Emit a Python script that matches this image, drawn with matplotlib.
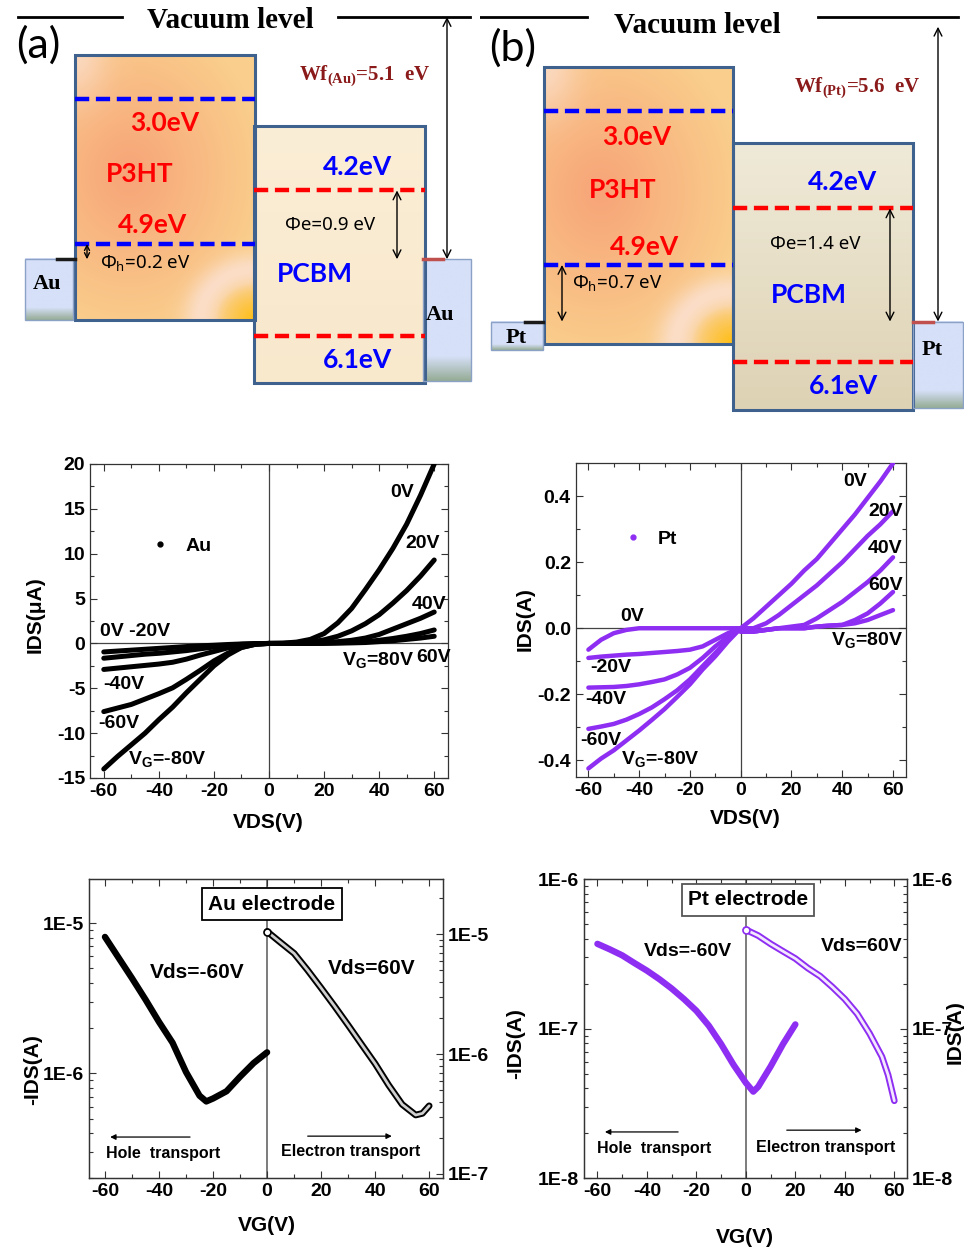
import numpy as np
import matplotlib.pyplot as plt
import matplotlib.patheffects as pe
from matplotlib.patches import Rectangle
from matplotlib.ticker import MultipleLocator, LogLocator, FuncFormatter, NullFormatter

plt.rcParams['font.family'] = ['Liberation Sans', 'DejaVu Sans']
plt.rcParams['font.weight'] = 'bold'
plt.rcParams['axes.labelweight'] = 'bold'
plt.rcParams['axes.unicode_minus'] = False
plt.rcParams['mathtext.default'] = 'regular'

# ---- energy levels (eV)
p3ht_lumo, p3ht_homo = 3.0, 4.9
pcbm_lumo, pcbm_homo = 4.2, 6.1
wf_au, wf_pt = 5.1, 5.6

# ---- output curves IDS(VDS)
vds_neg = [-60, -55, -50, -45, -40, -35, -30, -25, -20, -15, -10, -5, 0]
vds_pos = [0, 5, 10, 15, 20, 25, 30, 35, 40, 45, 50, 55, 60]
vg_neg = [0, -20, -40, -60, -80]
vg_pos = [0, 20, 40, 60, 80]

au_neg = [  # uA
    [-0.95, -0.85, -0.75, -0.65, -0.55, -0.45, -0.35, -0.27, -0.2, -0.12, -0.06, -0.02, 0],
    [-1.65, -1.5, -1.35, -1.2, -1.1, -0.95, -0.8, -0.6, -0.4, -0.25, -0.1, -0.03, 0],
    [-2.9, -2.75, -2.6, -2.45, -2.3, -2.1, -1.75, -1.3, -0.9, -0.5, -0.2, -0.05, 0],
    [-7.6, -7.2, -6.8, -6.2, -5.6, -4.95, -4.0, -3.0, -1.95, -1.1, -0.45, -0.1, 0],
    [-14.0, -12.6, -11.3, -10.0, -8.5, -7.1, -5.5, -4.0, -2.5, -1.3, -0.45, -0.1, 0],
]
au_pos = [
    [0, 0.03, 0.15, 0.45, 1.1, 2.3, 3.9, 6.0, 8.2, 10.6, 13.3, 16.5, 20.0],
    [0, 0, 0.05, 0.15, 0.4, 0.8, 1.4, 2.2, 3.2, 4.5, 5.9, 7.5, 9.3],
    [0, 0, 0, 0.05, 0.1, 0.2, 0.35, 0.6, 1.0, 1.6, 2.2, 2.8, 3.5],
    [0, 0, 0, 0, 0.05, 0.08, 0.12, 0.2, 0.35, 0.55, 0.8, 1.1, 1.5],
    [0, 0, 0, 0, 0, 0.03, 0.06, 0.1, 0.2, 0.3, 0.45, 0.6, 0.8],
]
pt_neg = [  # A
    [-0.065, -0.035, -0.015, -0.005, 0, 0, 0, 0, 0, 0, 0, 0, 0],
    [-0.09, -0.086, -0.083, -0.08, -0.078, -0.075, -0.072, -0.069, -0.065, -0.055, -0.035, -0.015, 0],
    [-0.18, -0.179, -0.178, -0.175, -0.17, -0.163, -0.155, -0.14, -0.12, -0.09, -0.055, -0.025, 0],
    [-0.305, -0.298, -0.29, -0.277, -0.26, -0.24, -0.215, -0.188, -0.155, -0.115, -0.075, -0.035, 0],
    [-0.425, -0.395, -0.37, -0.34, -0.31, -0.278, -0.245, -0.208, -0.17, -0.125, -0.085, -0.04, 0],
]
pt_pos = [
    [0, 0.03, 0.065, 0.1, 0.135, 0.175, 0.21, 0.255, 0.3, 0.345, 0.395, 0.445, 0.5],
    [0, 0, 0.015, 0.04, 0.07, 0.1, 0.13, 0.165, 0.2, 0.24, 0.28, 0.315, 0.355],
    [-0.01, -0.01, -0.005, 0, 0.005, 0.01, 0.03, 0.055, 0.08, 0.11, 0.14, 0.175, 0.215],
    [-0.01, -0.01, -0.005, 0, 0, 0, 0.005, 0.008, 0.01, 0.025, 0.045, 0.075, 0.11],
    [-0.01, -0.01, -0.005, 0, 0, 0, 0.005, 0.008, 0.01, 0.015, 0.025, 0.04, 0.055],
]

# ---- transfer curves
vg_au_neg = [-60, -55, -50, -45, -40, -35, -30, -25, -22.5, -20, -15, -10, -5, 0]
ids_au_neg = [8.1e-6, 5.9e-6, 4.3e-6, 3.1e-6, 2.2e-6, 1.6e-6, 1.02e-6, 7.1e-7, 6.5e-7,
              6.8e-7, 7.6e-7, 9.5e-7, 1.17e-6, 1.38e-6]
vg_au_pos = [0, 5, 10, 15, 20, 25, 30, 35, 40, 45, 50, 55, 57.5, 60]
ids_au_pos = [1.05e-5, 8.5e-6, 6.9e-6, 5.0e-6, 3.55e-6, 2.5e-6, 1.74e-6, 1.2e-6, 8.3e-7,
              5.5e-7, 3.8e-7, 3.1e-7, 3.2e-7, 3.7e-7]
vg_pt_neg = [-60, -55, -50, -45, -40, -35, -30, -25, -20, -15, -10, -5, 0, 3, 5, 10, 15, 20]
ids_pt_neg = [3.7e-7, 3.4e-7, 3.1e-7, 2.75e-7, 2.45e-7, 2.15e-7, 1.86e-7, 1.58e-7, 1.32e-7,
              1.05e-7, 7.9e-8, 5.75e-8, 4.35e-8, 3.8e-8, 4.1e-8, 5.6e-8, 7.9e-8, 1.07e-7]
vg_pt_pos = [0, 5, 10, 15, 20, 25, 30, 35, 40, 45, 50, 55, 57.5, 60]
ids_pt_pos = [4.6e-7, 4.2e-7, 3.7e-7, 3.3e-7, 2.95e-7, 2.55e-7, 2.25e-7, 1.9e-7, 1.58e-7,
              1.26e-7, 9.3e-8, 6.5e-8, 4.9e-8, 3.3e-8]

PURPLE = '#8E2EF2'
SERIF = 'Liberation Serif'
CAL = ['Lato', 'DejaVu Sans']
PX = 0.72  # pixel -> point at 100 dpi

fig = plt.figure(figsize=(9.64, 12.49), dpi=100)


def p3ht_img(n=160):
    u, v = np.meshgrid(np.linspace(0, 1, n), np.linspace(0, 1, n))
    salmon = np.array([247, 164, 120]) / 255
    peach = np.array([250, 206, 140]) / 255
    d = np.sqrt(((u - 0.3) / 0.75) ** 2 + ((v - 0.45) / 0.6) ** 2)
    t = np.clip(d, 0, 1)[..., None]
    img = salmon * (1 - t) + peach * t
    g = (np.exp(-(u ** 2 + v ** 2) / 0.03) * 0.6)[..., None]
    img = img * (1 - g) + np.array([252, 228, 225]) / 255 * g
    r = np.sqrt((1 - u) ** 2 + ((1 - v) * 1.6) ** 2)
    ring = (np.exp(-((r - 0.3) / 0.1) ** 2) * 0.6)[..., None]
    img = img * (1 - ring) + np.array([252, 232, 238]) / 255 * ring
    yel = np.clip(1 - r / 0.22, 0, 1)[..., None]
    img = img * (1 - yel) + np.array([255, 190, 20]) / 255 * yel
    return img


def vgrad(c0, c1, start=0.0, n=100):
    v = np.linspace(0, 1, n)
    t = np.clip((v - start) / (1 - start), 0, 1)[:, None]
    col = np.array(c0) / 255 * (1 - t) + np.array(c1) / 255 * t
    return col[:, None, :].repeat(2, axis=1)


def img_box(ax, xs, es, img, ec, lw):
    ax.imshow(img, extent=(xs[0], xs[1], es[1], es[0]), aspect='auto',
              interpolation='bilinear', zorder=1)
    ax.add_patch(Rectangle((xs[0], es[0]), xs[1] - xs[0], es[1] - es[0],
                           fill=False, ec=ec, lw=lw, zorder=4))


def lbl(ax, s, x, e, dy, **kw):
    ax.annotate(s, (x, e), xytext=(0, -dy * PX), textcoords='offset points',
                ha='center', va='center', zorder=6, **kw)


def arrow2(ax, x, e1, e2, ms=14):
    ax.annotate('', xy=(x, e1), xytext=(x, e2),
                arrowprops=dict(arrowstyle='<->', color='k', lw=1,
                                mutation_scale=ms, shrinkA=0, shrinkB=0), zorder=6)


def band(ax, tag, metal, wf, L):
    vac = L['vac']
    for xa, xb in L['vac_segs']:
        ax.plot([xa, xb], [vac, vac], color='k', lw=2)
    lbl(ax, 'Vacuum level', L['vac_tx'], vac, L['vac_dy'], family=SERIF,
        fontsize=21, fontweight='bold')
    ax.text(L['tag_xy'][0], L['tag_xy'][1], tag, transform=ax.transAxes, ha='center',
            va='center', fontsize=31, fontweight='normal', family=CAL)

    img_box(ax, L['p3ht_x'], L['p3ht_e'], p3ht_img(), '#3E618E', 2.2)
    img_box(ax, L['pcbm_x'], L['pcbm_e'], vgrad(*L['pcbm_col']), '#3E618E', 2.2)
    metal_img = vgrad((214, 224, 248), (150, 172, 150), start=0.8)
    img_box(ax, L['mL_x'], (wf, L['mL_bot']), metal_img, '#8BA2C6', 1)
    img_box(ax, L['mR_x'], (wf, L['mR_bot']), metal_img, '#8BA2C6', 1)

    for e in (p3ht_lumo, p3ht_homo):
        ax.plot(L['p3ht_x'], [e, e], color='#0000FF', lw=3.2, dashes=(3.2, 1.5), zorder=5)
    for e in (pcbm_lumo, pcbm_homo):
        ax.plot(L['pcbm_x'], [e, e], color='#FF0000', lw=3.2, dashes=(3.2, 1.5), zorder=5)
    ax.plot(L['fL_x'], [wf, wf], color='#1A1A1A', lw=2.5, zorder=5)
    ax.plot(L['fR_x'], [wf, wf], color='#C0504D', lw=2.5, zorder=5)

    arrow2(ax, L['ah'], p3ht_homo, wf, L['ah_ms'])
    arrow2(ax, L['ae'], pcbm_lumo, wf)
    arrow2(ax, L['awf'], vac + L['wf_gap'], wf)

    big = dict(fontsize=19, fontweight='bold', family=CAL)
    T = L['tx']
    lbl(ax, '%.1feV' % p3ht_lumo, T['lumo'][0], p3ht_lumo, T['lumo'][1], color='#FF0000', **big)
    lbl(ax, 'P3HT', T['p3ht'][0], p3ht_lumo, T['p3ht'][1], color='#FF0000', **big)
    lbl(ax, '%.1feV' % p3ht_homo, T['homo'][0], p3ht_homo, T['homo'][1], color='#FF0000', **big)
    lbl(ax, '%.1feV' % pcbm_lumo, T['c_lumo'][0], pcbm_lumo, T['c_lumo'][1], color='#0000FF', **big)
    lbl(ax, 'PCBM', T['pcbm'][0], pcbm_lumo, T['pcbm'][1], color='#0000FF', **big)
    lbl(ax, '%.1feV' % pcbm_homo, T['c_homo'][0], pcbm_homo, T['c_homo'][1], color='#0000FF', **big)
    small = dict(fontsize=13.5, fontweight='normal', family='Noto Sans')
    lbl(ax, 'Φe=%.1f eV' % (wf - pcbm_lumo), T['phe'][0], pcbm_lumo, T['phe'][1], **small)
    lbl(ax, 'Φ$_h$=%.1f eV' % (wf - p3ht_homo), T['phh'][0], p3ht_homo, T['phh'][1], **small)
    lbl(ax, 'Wf$_{(%s)}$=%.1f  eV' % (metal, wf), T['wf'][0], vac, T['wf'][1],
        color='#8B1A1A', family=SERIF, fontsize=15, fontweight='bold')
    lbl(ax, metal, T['mL'][0], wf, T['mL'][1], family=SERIF, fontsize=16, fontweight='bold')
    lbl(ax, metal, T['mR'][0], wf, T['mR'][1], family=SERIF, fontsize=16, fontweight='bold')

    ax.set_xlim(0, L['w'])
    ax.set_ylim(L['ebot'], L['etop'])
    ax.axis('off')


lay_a = dict(w=480, etop=1.707, ebot=6.812, vac=1.93, wf_gap=0.0,
             vac_segs=[(18, 122), (338, 470)], vac_tx=230, vac_dy=3, tag_xy=(0.079, 0.885),
             p3ht_x=(75, 255), p3ht_e=(2.427, 5.896), pcbm_x=(254, 425), pcbm_e=(3.356, 6.719),
             pcbm_col=((251, 238, 214), (248, 232, 204)),
             mL_x=(25, 73), mL_bot=5.9, mR_x=(423, 471), mR_bot=6.69,
             fL_x=(57, 75), fR_x=(423, 443), ah=87, ah_ms=9, ae=397, awf=447,
             tx=dict(lumo=(165, 24), p3ht=(140, 75), homo=(153, -19), c_lumo=(358, -23),
                     pcbm=(315, 84), c_homo=(358, 24), phe=(330, 35), phh=(145, 19),
                     wf=(365, 59), mL=(47, 25), mR=(440, 56)))
lay_b = dict(w=484, etop=1.621, ebot=6.819, vac=1.832, wf_gap=0.12,
             vac_segs=[(0, 107), (338, 478)], vac_tx=217, vac_dy=8, tag_xy=(0.068, 0.886),
             p3ht_x=(64, 253), p3ht_e=(2.451, 5.879), pcbm_x=(253, 433), pcbm_e=(3.391, 6.696),
             pcbm_col=((239, 234, 216), (222, 210, 180)),
             mL_x=(11, 63), mL_bot=5.953, mR_x=(433, 483), mR_bot=6.671,
             fL_x=(45, 63), fR_x=(433, 453), ah=82, ah_ms=14, ae=410, awf=458,
             tx=dict(lumo=(157, 26), p3ht=(143, 79), homo=(165, -18), c_lumo=(363, -26),
                     pcbm=(329, 87), c_homo=(363, 24), phe=(335, 36), phh=(137, 18),
                     wf=(377, 71), mL=(36, 16), mR=(452, 28)))

axa = fig.add_axes([0, 1 - 390 / 1249, 480 / 964, 390 / 1249])
band(axa, '(a)', 'Au', wf_au, lay_a)
axb = fig.add_axes([480 / 964, 1 - 420 / 1249, 484 / 964, 420 / 1249])
band(axb, '(b)', 'Pt', wf_pt, lay_b)


def frame(ax):
    for s in ax.spines.values():
        s.set_linewidth(0.9)
        s.set_color('#333333')
    ax.tick_params(which='both', direction='in', top=True, right=True, labelsize=14,
                   width=0.8, colors='#333333', labelcolor='k')
    ax.tick_params(which='major', length=5)
    ax.tick_params(which='minor', length=3)


def output_panel(ax, neg, pos, color, lw, name, ylim, ymaj, ymin, ylabel, leg_xy, labels):
    for ys in neg:
        ax.plot(vds_neg, ys, color=color, lw=lw, solid_capstyle='round', zorder=3)
    for ys in pos:
        ax.plot(vds_pos, ys, color=color, lw=lw, solid_capstyle='round', zorder=3)
    ax.axhline(0, color='#444444', lw=0.9, zorder=1)
    ax.axvline(0, color='#444444', lw=0.9, zorder=1)
    ax.set_xlim(-65, 65)
    ax.set_ylim(*ylim)
    ax.xaxis.set_major_locator(MultipleLocator(20))
    ax.xaxis.set_minor_locator(MultipleLocator(10))
    ax.yaxis.set_major_locator(MultipleLocator(ymaj))
    ax.yaxis.set_minor_locator(MultipleLocator(ymin))
    frame(ax)
    ax.set_xlabel('VDS(V)', fontsize=15)
    ax.set_ylabel(ylabel, fontsize=15)
    ax.plot([], [], ls='none', marker='o', ms=3.5, color=color, label=name)
    ax.legend(loc='center left', bbox_to_anchor=leg_xy, frameon=False, handlelength=1,
              handletextpad=0.8, borderpad=0, borderaxespad=0, fontsize=14)
    for s, x, y in labels:
        ax.text(x, y, s, ha='center', va='center', fontsize=14, zorder=5)


ax1 = fig.add_axes([90 / 964, 1 - 778 / 1249, 358 / 964, 314 / 1249])
output_panel(ax1, au_neg, au_pos, 'k', 3.6, 'Au', (-15, 20), 5, 2.5, 'IDS(μA)', (0.168, 0.739),
             [('0V', 48.5, 16.8), ('20V', 55.7, 11.1), ('40V', 58.2, 4.3), ('60V', 59.6, -1.6),
              ('V$_G$=80V', 39.5, -1.85), ('0V -20V', -48.7, 1.3), ('-40V', -52.7, -4.6),
              ('-60V', -54.5, -8.9), ('V$_G$=-80V', -36.8, -12.9)])
ax1.xaxis.set_label_coords(0.497, -0.111)
ax1.yaxis.set_label_coords(-0.128, 0.52)

ax2 = fig.add_axes([575.7 / 964, 1 - 776.7 / 1249, 330 / 964, 313.4 / 1249])
output_panel(ax2, pt_neg, pt_pos, PURPLE, 3.2, 'Pt', (-0.45, 0.5), 0.2, 0.1, 'IDS(A)', (0.143, 0.758),
             [('0V', 45.2, 0.446), ('20V', 57, 0.355), ('40V', 57, 0.243), ('60V', 57, 0.131),
              ('V$_G$=80V', 49.9, -0.035), ('0V', -42.8, 0.037), ('-20V', -51, -0.12),
              ('-40V', -53, -0.217), ('-60V', -55, -0.339), ('V$_G$=-80V', -31.7, -0.396)])
ax2.yaxis.set_major_formatter(FuncFormatter(lambda v, p: '%.1f' % v))
ax2.xaxis.set_label_coords(0.513, -0.103)
ax2.yaxis.set_label_coords(-0.123, 0.503)


def log_axis(a, lo, hi):
    a.set_yscale('log')
    a.set_ylim(lo, hi)
    a.yaxis.set_major_locator(LogLocator(base=10))
    a.yaxis.set_minor_locator(LogLocator(base=10, subs=np.arange(2, 10)))
    a.yaxis.set_major_formatter(FuncFormatter(lambda v, p: '1E%d' % round(np.log10(v))))
    a.yaxis.set_minor_formatter(NullFormatter())


def transfer_panel(ax, xn, yn, xp, yp, color, lims_l, lims_r, box_txt, box_ec, T):
    ax.set_xlim(*T['xlim'])
    log_axis(ax, *lims_l)
    ax.xaxis.set_major_locator(MultipleLocator(20))
    ax.xaxis.set_minor_locator(MultipleLocator(10))
    frame(ax)
    ax.tick_params(which='both', right=False)
    axr = ax.twinx()
    log_axis(axr, *lims_r)
    frame(axr)
    axr.tick_params(which='both', left=False, top=False)
    ax.axvline(0, color='#666666', lw=1.2, zorder=1)
    ax.plot(xn, yn, color=color, lw=4.6, solid_capstyle='round', zorder=3)
    inner = '#CFCFCF' if color == 'k' else '#F3E8FF'
    axr.plot(xp, yp, color=inner, lw=2.0, solid_capstyle='round', zorder=3,
             path_effects=[pe.Stroke(linewidth=4.8, foreground=color, capstyle='round'), pe.Normal()])
    axr.plot(xp[:1], yp[:1], ls='none', marker='o', ms=5, mfc='white', mec=color, mew=1.2, zorder=4)
    ax.text(T['box'][0], T['box'][1], box_txt, transform=ax.transAxes, ha='center', va='center',
            fontsize=15, zorder=6,
            bbox=dict(boxstyle='square,pad=0.3', fc='white', ec=box_ec, lw=1.3))
    ax.text(T['vn'][0], T['vn'][1], 'Vds=-60V', transform=ax.transAxes, ha='center',
            va='center', fontsize=T['vfs'])
    ax.text(T['vp'][0], T['vp'][1], 'Vds=60V', transform=ax.transAxes, ha='center',
            va='center', fontsize=T['vfs'])
    ax.text(T['hole'][0], T['hole'][1], 'Hole  transport', transform=ax.transAxes,
            ha='center', va='center', fontsize=11.5)
    ax.text(T['elec'][0], T['elec'][1], 'Electron transport', transform=ax.transAxes,
            ha='center', va='center', fontsize=11.5)
    for (x0, x1), y in ((T['ha'], T['hay']), (T['ea'], T['eay'])):
        ax.annotate('', xy=(x1, y), xytext=(x0, y), xycoords='axes fraction',
                    arrowprops=dict(arrowstyle='-|>', color='k', lw=0.9,
                                    mutation_scale=8, shrinkA=0, shrinkB=0))
    ax.set_xlabel('VG(V)', fontsize=15)
    ax.set_ylabel('-IDS(A)', fontsize=15)
    return axr


ax3 = fig.add_axes([89.3 / 964, 1 - 1178.3 / 1249, 353.4 / 964, 299 / 1249])
transfer_panel(ax3, vg_au_neg, ids_au_neg, vg_au_pos, ids_au_pos, 'k',
               (2e-7, 1.96e-5), (9.2e-8, 2.86e-5), 'Au electrode', 'k',
               dict(xlim=(-65.8, 65), box=(0.517, 0.917), vn=(0.305, 0.687), vp=(0.80, 0.70), vfs=15,
                    hole=(0.209, 0.082), elec=(0.74, 0.088), ha=(0.285, 0.059), hay=0.138,
                    ea=(0.618, 0.856), eay=0.141))
ax3.xaxis.set_label_coords(0.502, -0.126)
ax3.yaxis.set_label_coords(-0.134, 0.362)

ax4 = fig.add_axes([584.3 / 964, 1 - 1178.3 / 1249, 322.4 / 964, 299 / 1249])
ax4r = transfer_panel(ax4, vg_pt_neg, ids_pt_neg, vg_pt_pos, ids_pt_pos, PURPLE,
                      (1e-8, 1e-6), (1e-8, 1e-6), 'Pt electrode', '#555555',
                      dict(xlim=(-65.3, 65), box=(0.508, 0.931), vn=(0.321, 0.757), vp=(0.861, 0.774),
                           vfs=14, hole=(0.216, 0.098), elec=(0.749, 0.104), ha=(0.291, 0.064),
                           hay=0.155, ea=(0.628, 0.86), eay=0.161))
ax4r.set_ylabel('IDS(A)', fontsize=15, rotation=90)
ax4r.yaxis.set_label_coords(1.12, 0.49)
ax4.xaxis.set_label_coords(0.498, -0.166)
ax4.yaxis.set_label_coords(-0.182, 0.452)

fig.savefig('out.png', dpi=100)
